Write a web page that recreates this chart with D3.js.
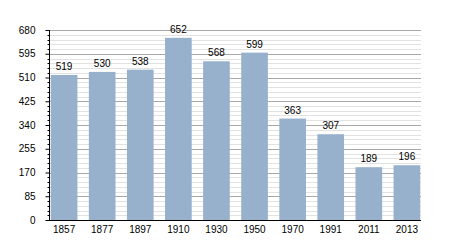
<!DOCTYPE html>
<html lang="fr">
<head>
<meta charset="UTF-8">
<title>Population</title>
<style>
  body { margin: 0; background: #fff; }
  svg text { font-family: "Liberation Sans", Arial, sans-serif; font-size: 10px; fill: #000; }
</style>
</head>
<body>
<div id="chart"></div>
<script src="https://d3js.org/d3.v7.min.js"></script>
<script>
const years = ["1857", "1877", "1897", "1910", "1930", "1950", "1970", "1991", "2011", "2013"];
const population = [519, 530, 538, 652, 568, 599, 363, 307, 189, 196];
const yMajorTicks = [0, 85, 170, 255, 340, 425, 510, 595, 680];

const width = 450, height = 250;
const margin = { top: 30, right: 29, bottom: 30, left: 50 };

const svg = d3.select("#chart").append("svg")
  .attr("width", width)
  .attr("height", height);

const x = d3.scaleBand()
  .domain(years)
  .range([margin.left, width - margin.right])
  .paddingInner(0.3)
  .paddingOuter(0.02);

const y = d3.scaleLinear()
  .domain([0, 680])
  .range([height - margin.bottom, margin.top]);

// minor gridlines every 17
const minor = d3.range(0, 681, 17).filter(v => v % 85 !== 0);
svg.append("g").selectAll("line")
  .data(minor)
  .join("line")
  .attr("x1", margin.left).attr("x2", width - margin.right)
  .attr("y1", d => Math.round(y(d)) + 0.5).attr("y2", d => Math.round(y(d)) + 0.5)
  .attr("stroke", "#e2e2e2");

svg.append("g").selectAll("line")
  .data(yMajorTicks.slice(1))
  .join("line")
  .attr("x1", margin.left).attr("x2", width - margin.right)
  .attr("y1", d => Math.round(y(d)) + 0.5).attr("y2", d => Math.round(y(d)) + 0.5)
  .attr("stroke", "#a8a8a8");

// bars
svg.append("g").selectAll("rect")
  .data(population)
  .join("rect")
  .attr("x", (d, i) => x(years[i]))
  .attr("width", x.bandwidth())
  .attr("y", d => y(d))
  .attr("height", d => y(0) - y(d))
  .attr("fill", "#97b0cc");

// value labels
svg.append("g").selectAll("text")
  .data(population)
  .join("text")
  .attr("x", (d, i) => x(years[i]) + x.bandwidth() / 2)
  .attr("y", d => y(d) - 5)
  .attr("text-anchor", "middle")
  .text(d => d);

// y axis with minor ticks
const yAxis = svg.append("g")
  .attr("transform", `translate(${margin.left - 0.5},0)`);
yAxis.call(d3.axisLeft(y).tickValues(yMajorTicks).tickSize(4).tickPadding(10));
yAxis.append("g").selectAll("line")
  .data(minor)
  .join("line")
  .attr("x1", -2).attr("x2", 0)
  .attr("y1", d => Math.round(y(d)) + 0.5).attr("y2", d => Math.round(y(d)) + 0.5)
  .attr("stroke", "#000");
yAxis.selectAll(".domain").attr("d", `M0,${y(680)}V${y(0)}`);

// x axis
const xAxis = svg.append("g")
  .attr("transform", `translate(0,${y(0) + 0.5})`);
xAxis.call(d3.axisBottom(x).tickSize(0).tickPadding(5));
xAxis.select(".domain").attr("d", `M${margin.left - 3},0H${width - margin.right}`);
svg.selectAll(".tick text").attr("font-family", null).attr("font-size", null);
</script>
</body>
</html>
